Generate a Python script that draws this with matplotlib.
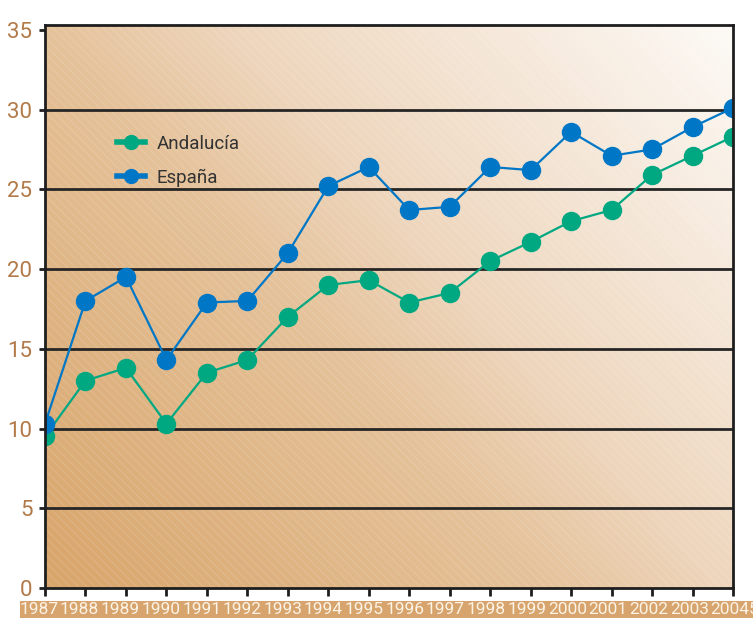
import numpy as np
import matplotlib
matplotlib.use("Agg")
import matplotlib.pyplot as plt
from matplotlib.patches import Rectangle
from matplotlib.lines import Line2D
import matplotlib.transforms as mtransforms

years = list(range(1987, 2005))
andalucia = [9.5, 13.0, 13.8, 10.3, 13.5, 14.3, 17.0, 19.0, 19.3, 17.9,
             18.5, 20.5, 21.7, 23.0, 23.7, 25.9, 27.1, 28.3]
espana = [10.3, 18.0, 19.5, 14.3, 17.9, 18.0, 21.0, 25.2, 26.4, 23.7,
          23.9, 26.4, 26.2, 28.6, 27.1, 27.5, 28.9, 30.1]
yticks = [0, 5, 10, 15, 20, 25, 30, 35]
series_names = ["Andalucía", "España"]

green = "#00a882"
blue = "#0077c6"
tick_col = "#b27a48"
band_col = "#d6a46c"
plt.rcParams['font.family'] = ['Roboto', 'DejaVu Sans']
plt.rcParams['hatch.linewidth'] = 0.7

fig = plt.figure(figsize=(7.53, 6.18), dpi=100)
W, H = 753, 618
ax = fig.add_axes([45 / W, 1 - 588 / H, 688 / W, (588 - 25) / H])

# gradient background
n = 300
xx, yy = np.meshgrid(np.linspace(0, 1, n), np.linspace(0, 1, n))
t = np.clip(xx * 0.58 + yy * 0.42, 0, 1)
stops = [0, 0.42, 0.58, 1]
cols = np.array([[216, 165, 106], [229, 194, 154], [238, 214, 189], [253, 250, 246]]) / 255
img = np.zeros((n, n, 3))
for k in range(3):
    img[..., k] = np.interp(t, stops, cols[:, k])
ax.imshow(img, extent=[0, 1, 0, 1], origin="lower", transform=ax.transAxes,
          aspect="auto", zorder=0, interpolation="bilinear")
ax.add_patch(Rectangle((0, 0), 1, 1, transform=ax.transAxes, facecolor="none",
                       edgecolor=(1, 1, 1, 0.15), hatch="\\\\\\\\", linewidth=0, zorder=0.5))

ax.set_xlim(1987, 2004)
ax.set_ylim(0, 35.3)

for yv in yticks[1:-1]:
    ax.axhline(yv, color="#262626", lw=2.0, zorder=1)

ax.plot(years, andalucia, color=green, lw=1.6, marker="o", ms=13, zorder=3)
ax.plot(years, espana, color=blue, lw=1.6, marker="o", ms=13, zorder=3)

for s in ["left", "right", "top", "bottom"]:
    ax.spines[s].set_color("#1e1e1e")
    ax.spines[s].set_linewidth(2.0)
    ax.spines[s].set_zorder(4)

ax.set_yticks(yticks)
ax.set_yticklabels([str(v) for v in yticks], color=tick_col, fontsize=16)
ax.tick_params(axis="y", length=4, width=2, color="#1e1e1e", pad=5)
ax.set_xticks(years)
ax.set_xticklabels([])
ax.tick_params(axis="x", length=6, width=2, color="#1e1e1e")

# year band
fig.patches.append(Rectangle((20 / W, 0), 1, 17 / H, transform=fig.transFigure,
                             facecolor=band_col, edgecolor="none", zorder=0))
for i, yr in enumerate(years):
    off = mtransforms.offset_copy(ax.transData, fig=fig, x=-6 + 3 * i / 17, y=0, units="dots")
    tr = mtransforms.blended_transform_factory(off, fig.transFigure)
    fig.text(yr, 8 / H, str(yr), transform=tr, ha="center", va="center",
             color="#fdf3e6", fontsize=12.5)
# clipped next label at right edge
fig.text(749 / W, 8 / H, "5", ha="left", va="center", color="#fdf3e6", fontsize=12.5)

handles = [Line2D([], [], color=green, lw=4, marker="o", ms=10),
           Line2D([], [], color=blue, lw=4, marker="o", ms=10)]
leg = ax.legend(handles, series_names, loc="upper left",
                bbox_to_anchor=(100 / W, 1 - 118 / H), bbox_transform=fig.transFigure,
                frameon=False, handlelength=1.5, handletextpad=0.6, labelspacing=0.85,
                fontsize=13.5, labelcolor="#333333")

fig.savefig("out.png", dpi=100)
